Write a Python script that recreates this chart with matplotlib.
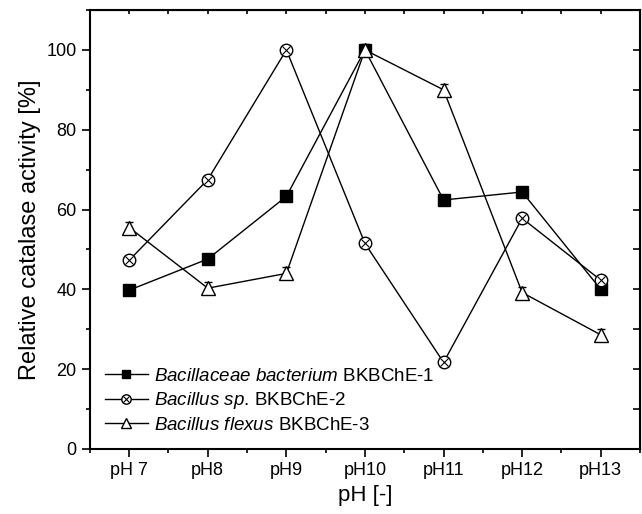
import matplotlib.pyplot as plt
from matplotlib.legend_handler import HandlerTuple
from matplotlib.ticker import MultipleLocator

plt.rcParams['font.family'] = ['Liberation Sans', 'DejaVu Sans']
plt.rcParams['mathtext.fontset'] = 'custom'
plt.rcParams['mathtext.it'] = 'Liberation Sans:italic'
plt.rcParams['mathtext.rm'] = 'Liberation Sans'

# Datos
etiquetas = ['pH 7', 'pH8', 'pH9', 'pH10', 'pH11', 'pH12', 'pH13']
bacillaceae = [39.8, 47.6, 63.3, 100, 62.4, 64.4, 40.0]
bacillus_sp = [47.3, 67.5, 100, 51.5, 21.7, 57.8, 42.3]
bacillus_flexus = [55.5, 40.3, 44.0, 100, 90.0, 39.2, 28.6]
err_flexus = [1.5, 1.5, 1.5, 1.5, 1.5, 1.5, 1.5]

x = list(range(len(etiquetas)))

fig = plt.figure(figsize=(6.42, 5.14), dpi=100)
ax = fig.add_axes([0.140, 0.1265, 0.857, 0.854])

l1, = ax.plot(x, bacillaceae, color='black', lw=1, marker='s', ms=8,
              markerfacecolor='black')
l2a, = ax.plot(x, bacillus_sp, color='black', lw=1, marker='o', ms=9,
               markerfacecolor='white', markeredgewidth=1)
l2b, = ax.plot(x, bacillus_sp, color='black', lw=0, marker='x', ms=6,
               markeredgewidth=0.8)
ax.errorbar(x, bacillus_flexus, yerr=err_flexus, fmt='none', ecolor='black',
            elinewidth=0.8, capsize=3)
l3, = ax.plot(x, bacillus_flexus, color='black', lw=1, marker='^', ms=10,
              markerfacecolor='white', markeredgewidth=1)

ax.set_xlim(-0.5, 6.5)
ax.set_ylim(0, 110)
ax.set_xticks(x)
ax.set_xticklabels(etiquetas)
ax.xaxis.set_minor_locator(MultipleLocator(0.5))
ax.yaxis.set_major_locator(MultipleLocator(20))
ax.yaxis.set_minor_locator(MultipleLocator(10))
ax.tick_params(axis='both', which='major', labelsize=13, length=6, width=1.2,
               direction='out')
ax.tick_params(axis='both', which='minor', length=3, width=1.2, direction='out')
for spine in ax.spines.values():
    spine.set_linewidth(1.5)

# ticks superiores y derechos hacia dentro
ax_top = ax.secondary_xaxis('top')
ax_top.set_xticks(x)
ax_top.set_xticklabels([])
ax_top.xaxis.set_minor_locator(MultipleLocator(0.5))
ax_top.tick_params(which='both', direction='in', length=3, width=1.2)
ax_right = ax.secondary_yaxis('right')
ax_right.yaxis.set_major_locator(MultipleLocator(10))
ax_right.set_yticklabels([])
ax_right.tick_params(direction='in', length=5, width=1.2)

ax.set_xlabel('pH [-]', fontsize=16)
ax.set_ylabel('Relative catalase activity [%]', fontsize=17)

ax.legend([l1, (l2a, l2b), l3],
          [r'$\it{Bacillaceae\ bacterium}$ BKBChE-1',
           r'$\it{Bacillus\ sp}$. BKBChE-2',
           r'$\it{Bacillus\ flexus}$ BKBChE-3'],
          handler_map={tuple: HandlerTuple(ndivide=1, pad=0)},
          loc='lower left', bbox_to_anchor=(0.0, 0.0), frameon=False,
          fontsize=13.5, handlelength=2.3, handletextpad=0.3, labelspacing=0.3,
          borderaxespad=0.4, markerscale=0.75)

fig.savefig('out.png', dpi=100)
